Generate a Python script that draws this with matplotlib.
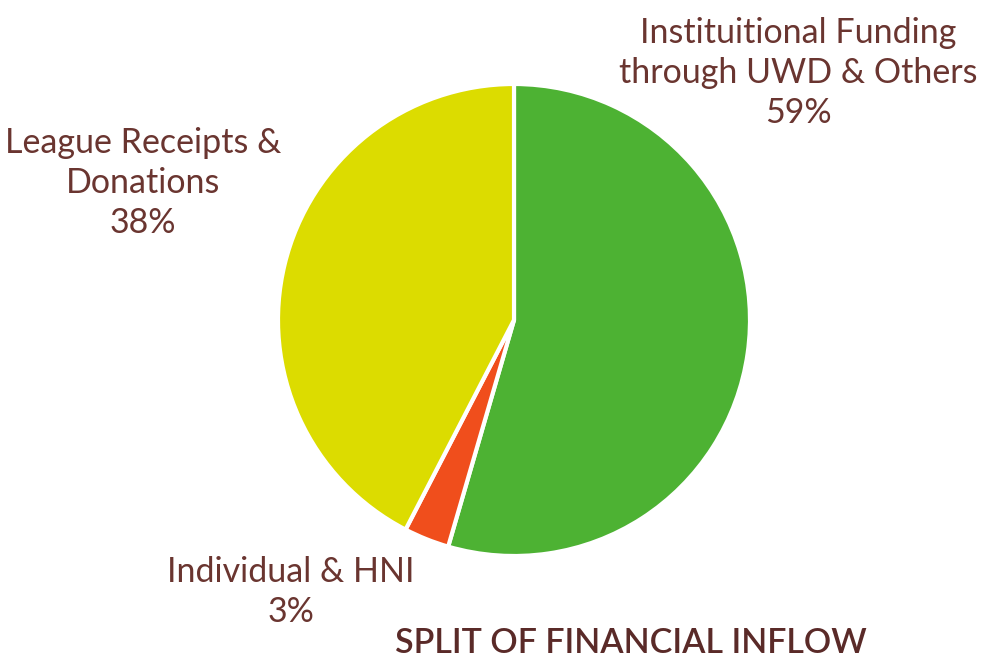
import matplotlib
matplotlib.use('Agg')
import matplotlib.pyplot as plt

# shares as drawn in the picture (the printed labels differ from the slice sizes)
categories = ['Instituitional Funding\nthrough UWD & Others', 'Individual & HNI', 'League Receipts &\nDonations']
drawn_shares = [54.5, 3.1, 42.4]
pct_labels = ['59%', '3%', '38%']
colors = ['#4db233', '#f04e1c', '#dcdc00']
title = 'SPLIT OF FINANCIAL INFLOW'

text_color = '#6a3530'
plt.rcParams['font.family'] = ['Lato', 'DejaVu Sans']

fig = plt.figure(figsize=(9.83, 6.6), dpi=100)
ax = fig.add_axes([0, 0, 1, 1])

ax.pie(drawn_shares, colors=colors, startangle=90, counterclock=False,
       center=(514, 340), radius=236,
       wedgeprops=dict(edgecolor='white', linewidth=3))
ax.set_xlim(0, 983)
ax.set_ylim(0, 660)
ax.set_aspect('equal')
ax.axis('off')

# label positions in pixel space (x center, y of first line from top)
label_pos = [(798, 33), (291, 572), (143, 143)]
for name, pct, (x, y) in zip(categories, pct_labels, label_pos):
    lines = (name + '\n' + pct).split('\n')
    for i, line in enumerate(lines):
        ax.text(x, 660 - (y + i * 40), line, ha='center', va='center',
                fontsize=24.5, color=text_color)

ax.text(631, 660 - 643, title, ha='center', va='center', fontsize=24.5,
        fontweight='semibold', color='#5a2a28')

fig.savefig('out.png', dpi=100)
